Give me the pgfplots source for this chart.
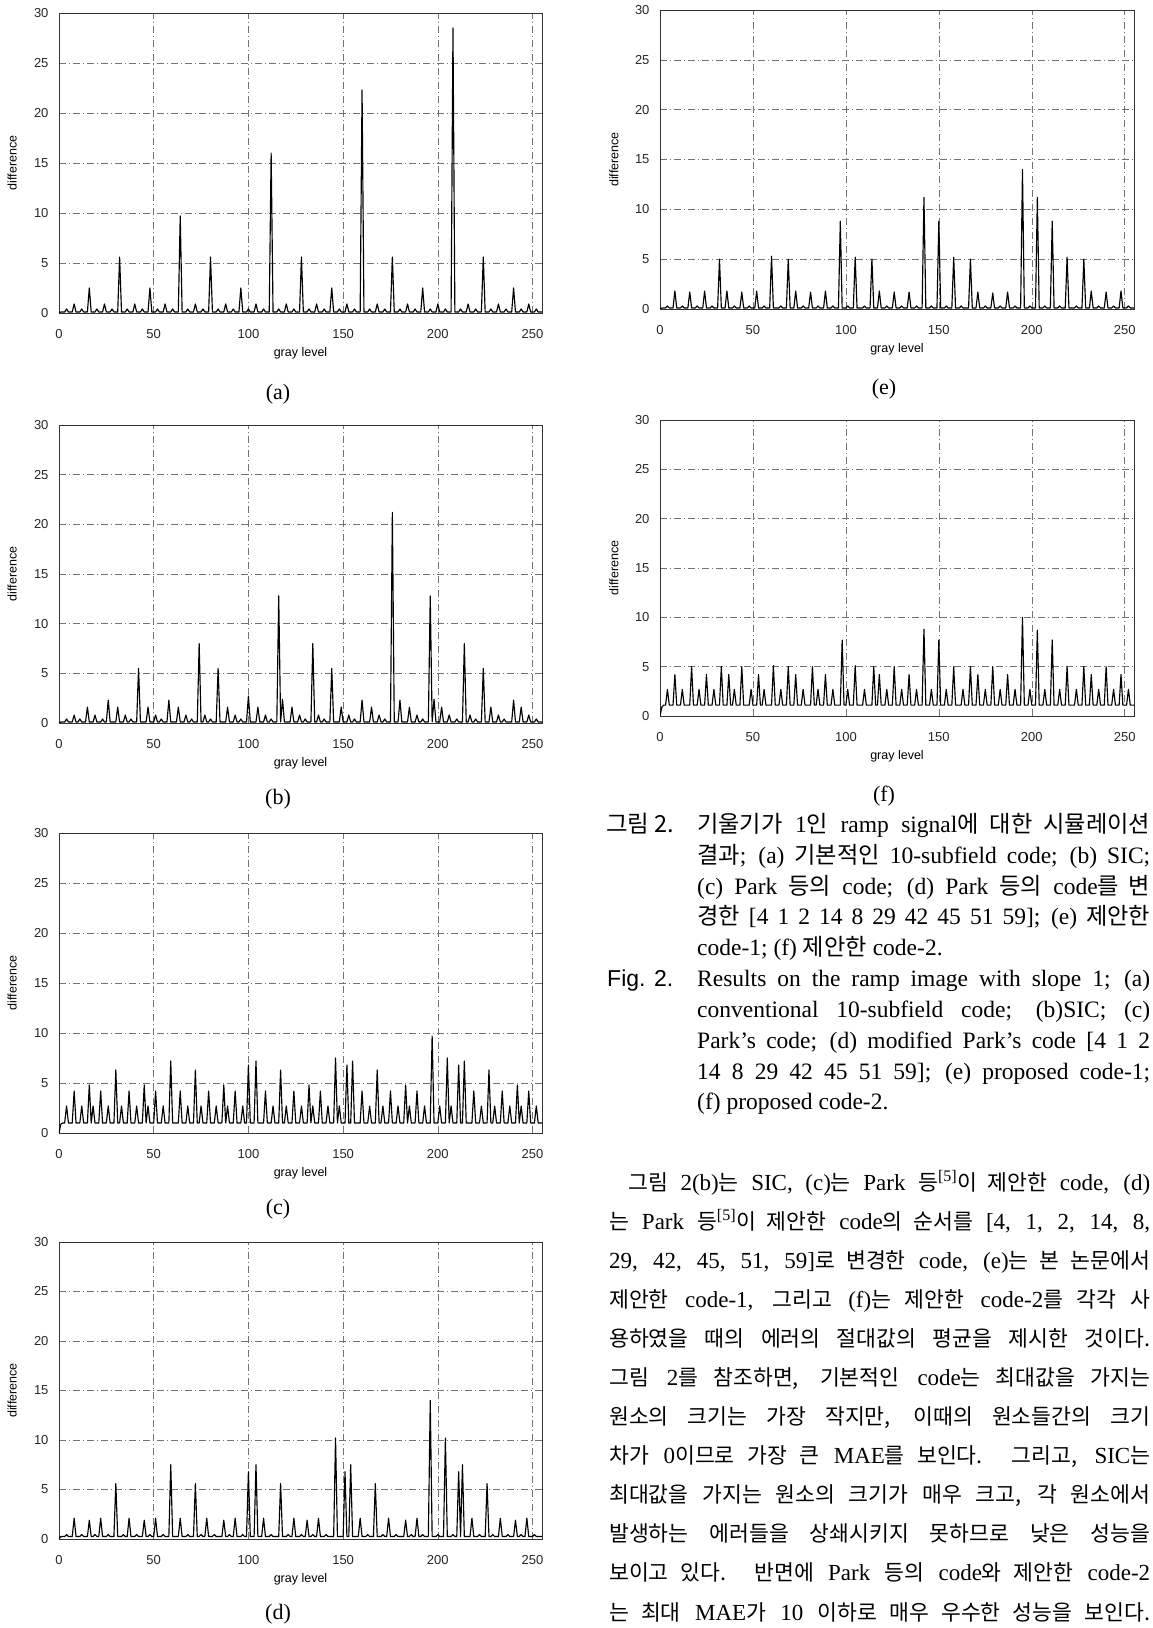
\documentclass[border=0pt]{standalone}
\usepackage{fontspec}
\setmainfont{Liberation Serif}
\newfontfamily\ticksf{Liberation Sans}
\newfontfamily\kr{Noto Sans CJK KR}
\usepackage{pgfplots}
\pgfplotsset{compat=1.18}
\pgfplotsset{
  panel/.style={
    scale only axis, anchor=south west,
    xmin=0, xmax=255, ymin=0, ymax=30,
    xtick={0,50,...,250}, ytick={0,5,...,30},
    major tick length=0pt,
    grid=major,
    major grid style={black!55, line width=0.5pt, dash pattern=on 7pt off 3pt on 1pt off 3pt},
    axis line style={black!80, line width=0.6pt},
    tick label style={font=\ticksf\fontsize{13}{15}\selectfont, black!85},
    /pgf/number format/assume math mode=true,
    xticklabel style={yshift=-13pt},
    yticklabel style={xshift=-7pt},
    xlabel={gray level}, ylabel={difference},
    every axis x label/.style={at={(axis description cs:0.5,-0.135)}, anchor=center, font=\ticksf\fontsize{12.5}{14}\selectfont},
    every axis y label/.style={at={(axis description cs:-0.097,0.5)}, rotate=90, anchor=center, font=\ticksf\fontsize{12.5}{14}\selectfont},
  },
  trace/.style={black, line width=1.15pt, mark=none, line join=round},
}
\def\krsize{22.5}
\newcommand\K[1]{{\kr\fontsize{\krsize}{\krsize}\selectfont #1}}
\newcommand\JL[4]{\node[anchor=base west, inner sep=0pt] at (#1pt,#2pt) {\hbox to #3pt{#4}};}
\newcommand\NL[3]{\node[anchor=base west, inner sep=0pt] at (#1pt,#2pt) {#3};}
\begin{document}
\begin{tikzpicture}
\path[use as bounding box] (0,0) rectangle (1153pt,1628pt);
% (a)
\begin{axis}[panel, at={(59pt,1315pt)}, width=483pt, height=300pt]
\addplot[trace] coordinates {(0,0)(1,.1)(3,.1)(4,.4)(5,.1)(7,.1)(8,.9)(9,.1)(11,.1)(12,.4)(13,.1)(15,.1)(16,2.5)(17,.1)(19,.1)(20,.4)(21,.1)(23,.1)(24,.9)(25,.1)(27,.1)(28,.4)(29,.1)(31,.1)(32,5.6)(33,.1)(35,.1)(36,.4)(37,.1)(39,.1)(40,.9)(41,.1)(43,.1)(44,.4)(45,.1)(47,.1)(48,2.5)(49,.1)(51,.1)(52,.4)(53,.1)(55,.1)(56,.9)(57,.1)(59,.1)(60,.4)(61,.1)(63,.1)(64,9.7)(65,.1)(67,.1)(68,.4)(69,.1)(71,.1)(72,.9)(73,.1)(75,.1)(76,.4)(77,.1)(79,.1)(80,5.6)(81,.1)(83,.1)(84,.4)(85,.1)(87,.1)(88,.9)(89,.1)(91,.1)(92,.4)(93,.1)(95,.1)(96,2.5)(97,.1)(99,.1)(100,.4)(101,.1)(103,.1)(104,.9)(105,.1)(107,.1)(108,.4)(109,.1)(111,.1)(112,16)(113,.1)(115,.1)(116,.4)(117,.1)(119,.1)(120,.9)(121,.1)(123,.1)(124,.4)(125,.1)(127,.1)(128,5.6)(129,.1)(131,.1)(132,.4)(133,.1)(135,.1)(136,.9)(137,.1)(139,.1)(140,.4)(141,.1)(143,.1)(144,2.5)(145,.1)(147,.1)(148,.4)(149,.1)(151,.1)(152,.9)(153,.1)(155,.1)(156,.4)(157,.1)(159,.1)(160,22.3)(161,.1)(163,.1)(164,.4)(165,.1)(167,.1)(168,.9)(169,.1)(171,.1)(172,.4)(173,.1)(175,.1)(176,5.6)(177,.1)(179,.1)(180,.4)(181,.1)(183,.1)(184,.9)(185,.1)(187,.1)(188,.4)(189,.1)(191,.1)(192,2.5)(193,.1)(195,.1)(196,.4)(197,.1)(199,.1)(200,.9)(201,.1)(203,.1)(204,.4)(205,.1)(207,.1)(208,28.5)(209,.1)(211,.1)(212,.4)(213,.1)(215,.1)(216,.9)(217,.1)(219,.1)(220,.4)(221,.1)(223,.1)(224,5.6)(225,.1)(227,.1)(228,.4)(229,.1)(231,.1)(232,.9)(233,.1)(235,.1)(236,.4)(237,.1)(239,.1)(240,2.5)(241,.1)(243,.1)(244,.4)(245,.1)(247,.1)(248,.9)(249,.1)(251,.1)(252,.4)(253,.1)(255,.1)};
\end{axis}
% (b)
\begin{axis}[panel, at={(59pt,905pt)}, width=483pt, height=298pt]
\addplot[trace] coordinates {(0,0)(1,.1)(3,.1)(4,.4)(5,.1)(7,.1)(8,.8)(9,.1)(10,.1)(11,.4)(12,.1)(14,.1)(15,1.6)(16,.1)(18,.1)(19,.8)(20,.1)(22,.1)(23,.4)(24,.1)(25,.1)(26,2.3)(27,.1)(30,.1)(31,1.6)(32,.1)(34,.1)(35,.8)(36,.1)(37,.1)(38,.4)(39,.1)(41,.1)(42,5.5)(43,.1)(46,.1)(47,1.6)(48,.1)(50,.1)(51,.8)(52,.1)(53,.1)(54,.4)(55,.1)(57,.1)(58,2.3)(59,.1)(62,.1)(63,1.6)(64,.1)(66,.1)(67,.8)(68,.1)(69,.1)(70,.4)(71,.1)(73,.1)(74,8.0)(75,.1)(76,.1)(77,.8)(78,.1)(79,.1)(80,.4)(81,.1)(83,.1)(84,5.5)(85,.1)(88,.1)(89,1.6)(90,.1)(92,.1)(93,.8)(94,.1)(95,.1)(96,.4)(97,.1)(99,.1)(100,2.7)(101,.1)(104,.1)(105,1.6)(106,.1)(108,.1)(109,.8)(110,.1)(111,.1)(112,.4)(113,.1)(115,.1)(116,12.8)(117,.1)(118,2.4)(119,.1)(122,.1)(123,1.6)(124,.1)(126,.1)(127,.8)(128,.1)(129,.1)(130,.4)(131,.1)(133,.1)(134,8.0)(135,.1)(136,.1)(137,.8)(138,.1)(139,.1)(140,.4)(141,.1)(143,.1)(144,5.5)(145,.1)(148,.1)(149,1.6)(150,.1)(152,.1)(153,.8)(154,.1)(155,.1)(156,.4)(157,.1)(159,.1)(160,2.3)(161,.1)(164,.1)(165,1.6)(166,.1)(168,.1)(169,.8)(170,.1)(171,.1)(172,.4)(173,.1)(175,.1)(176,21.2)(177,.1)(179,.1)(180,2.3)(181,.1)(184,.1)(185,1.6)(186,.1)(188,.1)(189,.8)(190,.1)(191,.1)(192,.4)(193,.1)(195,.1)(196,12.8)(197,.1)(198,2.4)(199,.1)(201,.1)(202,1.6)(203,.1)(205,.1)(206,.8)(207,.1)(209,.1)(210,.4)(211,.1)(213,.1)(214,8.0)(215,.1)(216,.1)(217,.8)(218,.1)(219,.1)(220,.4)(221,.1)(223,.1)(224,5.5)(225,.1)(227,.1)(228,1.6)(229,.1)(231,.1)(232,.8)(233,.1)(234,.1)(235,.4)(236,.1)(239,.1)(240,2.3)(241,.1)(243,.1)(244,1.6)(245,.1)(247,.1)(248,.8)(249,.1)(251,.1)(252,.4)(253,.1)(255,.1)};
\end{axis}
% (c)
\begin{axis}[panel, at={(59pt,495pt)}, width=483pt, height=300pt]
\addplot[trace] coordinates {(0,0)(1,0.9)(2,1)(3,1)(4,2.7)(5,1)(7,1)(8,4.2)(9,1)(11,1)(12,2.7)(13,1)(15,1)(16,4.8)(17,1)(18,2.7)(19,1)(21,1)(22,4.2)(23,1)(25,1)(26,2.7)(27,1)(29,1)(30,6.3)(31,1)(32,1)(33,2.7)(34,1)(36,1)(37,4.2)(38,1)(40,1)(41,2.7)(42,1)(44,1)(45,4.8)(46,1)(47,2.7)(48,1)(50,1)(51,4.2)(52,1)(54,1)(55,2.7)(56,1)(58,1)(59,7.2)(60,1)(63,1)(64,4.2)(65,1)(67,1)(68,2.7)(69,1)(71,1)(72,6.3)(73,1)(74,1)(75,2.7)(76,1)(78,1)(79,4.2)(80,1)(82,1)(83,2.7)(84,1)(86,1)(87,4.8)(88,1)(89,2.7)(90,1)(92,1)(93,4.2)(94,1)(96,1)(97,2.7)(98,1)(99,1)(100,6.8)(101,1)(103,1)(104,7.2)(105,1)(108,1)(109,4.2)(110,1)(112,1)(113,2.7)(114,1)(116,1)(117,6.3)(118,1)(119,1)(120,2.7)(121,1)(123,1)(124,4.2)(125,1)(127,1)(128,2.7)(129,1)(131,1)(132,4.8)(133,1)(134,2.7)(135,1)(137,1)(138,4.2)(139,1)(141,1)(142,2.7)(143,1)(145,1)(146,7.5)(147,1)(148,2.7)(149,1)(151,1)(152,6.8)(153,1)(154,1)(155,7.2)(156,1)(159,1)(160,4.2)(161,1)(163,1)(164,2.7)(165,1)(167,1)(168,6.3)(169,1)(170,1)(171,2.7)(172,1)(174,1)(175,4.2)(176,1)(178,1)(179,2.7)(180,1)(182,1)(183,4.8)(184,1)(185,2.7)(186,1)(188,1)(189,4.2)(190,1)(192,1)(193,2.7)(194,1)(196,1)(197,9.7)(198,1)(200,1)(201,2.7)(202,1)(204,1)(205,7.5)(206,1)(207,2.7)(208,1)(210,1)(211,6.8)(212,1)(213,1)(214,7.2)(215,1)(218,1)(219,4.2)(220,1)(222,1)(223,2.7)(224,1)(226,1)(227,6.3)(228,1)(229,1)(230,2.7)(231,1)(233,1)(234,4.2)(235,1)(237,1)(238,2.7)(239,1)(241,1)(242,4.8)(243,1)(244,2.7)(245,1)(247,1)(248,4.2)(249,1)(251,1)(252,2.7)(253,1)(255,1)};
\end{axis}
% (d)
\begin{axis}[panel, at={(59pt,89pt)}, width=483pt, height=297pt]
\addplot[trace] coordinates {(0,0)(1,.25)(3,.25)(4,.45)(5,.25)(7,.25)(8,2.1)(9,.25)(11,.25)(12,.45)(13,.25)(15,.25)(16,1.9)(17,.25)(18,.25)(19,.45)(20,.25)(21,.25)(22,2.1)(23,.25)(25,.25)(26,.45)(27,.25)(29,.25)(30,5.6)(31,.25)(33,.25)(34,.45)(35,.25)(36,.25)(37,2.1)(38,.25)(40,.25)(41,.45)(42,.25)(44,.25)(45,1.9)(46,.25)(47,.25)(48,.45)(49,.25)(50,.25)(51,2.1)(52,.25)(54,.25)(55,.45)(56,.25)(58,.25)(59,7.5)(60,.25)(63,.25)(64,2.1)(65,.25)(67,.25)(68,.45)(69,.25)(71,.25)(72,5.6)(73,.25)(74,.25)(75,.45)(76,.25)(77,.25)(78,2.1)(79,.25)(81,.25)(82,.45)(83,.25)(86,.25)(87,1.9)(88,.25)(89,.25)(90,.45)(91,.25)(92,.25)(93,2.1)(94,.25)(96,.25)(97,.45)(98,.25)(99,.25)(100,6.8)(101,.25)(103,.25)(104,7.5)(105,.25)(107,.25)(108,2.1)(109,.25)(111,.25)(112,.45)(113,.25)(116,.25)(117,5.6)(118,.25)(120,.25)(121,.45)(122,.25)(123,.25)(124,2.1)(125,.25)(127,.25)(128,.45)(129,.25)(130,.25)(131,1.9)(132,.25)(133,.25)(134,.45)(135,.25)(136,.25)(137,2.1)(138,.25)(140,.25)(141,.45)(142,.25)(145,.25)(146,10.2)(147,.25)(150,.25)(151,6.8)(152,.25)(153,.25)(154,7.5)(155,.25)(158,.25)(159,2.1)(160,.25)(162,.25)(163,.45)(164,.25)(166,.25)(167,5.6)(168,.25)(170,.25)(171,.45)(172,.25)(173,.25)(174,2.1)(175,.25)(177,.25)(178,.45)(179,.25)(182,.25)(183,1.9)(184,.25)(185,.25)(186,.45)(187,.25)(188,.25)(189,2.1)(190,.25)(191,.25)(192,.45)(193,.25)(195,.25)(196,14.0)(197,.25)(199,.25)(200,.45)(201,.25)(203,.25)(204,10.2)(205,.25)(207,.25)(208,.45)(209,.25)(210,.25)(211,6.8)(212,.25)(213,7.5)(214,.25)(217,.25)(218,2.1)(219,.25)(221,.25)(222,.45)(223,.25)(225,.25)(226,5.6)(227,.25)(228,.25)(229,.45)(230,.25)(232,.25)(233,2.1)(234,.25)(236,.25)(237,.45)(238,.25)(240,.25)(241,1.9)(242,.25)(243,.25)(244,.45)(245,.25)(246,.25)(247,2.1)(248,.25)(250,.25)(251,.45)(252,.25)(255,.25)};
\end{axis}
% (e)
\begin{axis}[panel, at={(660pt,1319pt)}, width=474pt, height=299pt]
\addplot[trace] coordinates {(0,0)(1,.1)(3,.1)(4,.3)(5,.1)(7,.1)(8,1.8)(9,.1)(11,.1)(12,.3)(13,.1)(15,.1)(16,1.7)(17,.1)(19,.1)(20,.3)(21,.1)(23,.1)(24,1.8)(25,.1)(27,.1)(28,.3)(29,.1)(31,.1)(32,5.0)(33,.1)(35,.1)(36,1.8)(37,.1)(39,.1)(40,.3)(41,.1)(43,.1)(44,1.7)(45,.1)(47,.1)(48,.3)(49,.1)(51,.1)(52,1.8)(53,.1)(55,.1)(56,.3)(57,.1)(59,.1)(60,5.3)(61,.1)(64,.1)(65,.3)(66,.1)(68,.1)(69,5.0)(70,.1)(72,.1)(73,1.8)(74,.1)(76,.1)(77,.3)(78,.1)(80,.1)(81,1.7)(82,.1)(84,.1)(85,.3)(86,.1)(88,.1)(89,1.8)(90,.1)(92,.1)(93,.3)(94,.1)(96,.1)(97,8.8)(98,.1)(100,.1)(101,.3)(102,.1)(104,.1)(105,5.2)(106,.1)(109,.1)(110,.3)(111,.1)(113,.1)(114,5.0)(115,.1)(117,.1)(118,1.8)(119,.1)(121,.1)(122,.3)(123,.1)(125,.1)(126,1.7)(127,.1)(129,.1)(130,.3)(131,.1)(133,.1)(134,1.7)(135,.1)(137,.1)(138,.3)(139,.1)(141,.1)(142,11.2)(143,.1)(145,.1)(146,.3)(147,.1)(149,.1)(150,8.8)(151,.1)(153,.1)(154,.3)(155,.1)(157,.1)(158,5.2)(159,.1)(161,.1)(162,.3)(163,.1)(166,.1)(167,5.0)(168,.1)(170,.1)(171,1.7)(172,.1)(174,.1)(175,.3)(176,.1)(178,.1)(179,1.6)(180,.1)(182,.1)(183,.3)(184,.1)(186,.1)(187,1.7)(188,.1)(190,.1)(191,.3)(192,.1)(194,.1)(195,14.0)(196,.1)(198,.1)(199,.3)(200,.1)(202,.1)(203,11.2)(204,.1)(206,.1)(207,.3)(208,.1)(210,.1)(211,8.8)(212,.1)(214,.1)(215,.3)(216,.1)(218,.1)(219,5.2)(220,.1)(223,.1)(224,.3)(225,.1)(227,.1)(228,5.0)(229,.1)(231,.1)(232,1.8)(233,.1)(235,.1)(236,.3)(237,.1)(239,.1)(240,1.7)(241,.1)(243,.1)(244,.3)(245,.1)(247,.1)(248,1.8)(249,.1)(251,.1)(252,.3)(253,.1)(255,.1)};
\end{axis}
% (f)
\begin{axis}[panel, at={(660pt,912pt)}, width=474pt, height=296pt]
\addplot[trace] coordinates {(0,0)(1,0.9)(2,1.1)(3,1.1)(4,2.7)(5,1.1)(7,1.1)(8,4.2)(9,1.1)(11,1.1)(12,2.7)(13,1.1)(16,1.1)(17,5.0)(18,1.1)(20,1.1)(21,2.7)(22,1.1)(24,1.1)(25,4.2)(26,1.1)(28,1.1)(29,2.7)(30,1.1)(32,1.1)(33,5.0)(34,1.1)(36,1.1)(37,4.2)(38,1.1)(39,1.1)(40,2.7)(41,1.1)(43,1.1)(44,5.0)(45,1.1)(48,1.1)(49,2.7)(50,1.1)(52,1.1)(53,4.2)(54,1.1)(55,1.1)(56,2.7)(57,1.1)(60,1.1)(61,5.1)(62,1.1)(64,1.1)(65,2.7)(66,1.1)(68,1.1)(69,5.0)(70,1.1)(72,1.1)(73,4.2)(74,1.1)(76,1.1)(77,2.7)(78,1.1)(81,1.1)(82,5.0)(83,1.1)(84,1.1)(85,2.7)(86,1.1)(88,1.1)(89,4.2)(90,1.1)(92,1.1)(93,2.7)(94,1.1)(97,1.1)(98,7.7)(99,1.1)(100,1.1)(101,2.7)(102,1.1)(104,1.1)(105,5.1)(106,1.1)(109,1.1)(110,2.7)(111,1.1)(114,1.1)(115,5.0)(116,1.1)(117,1.1)(118,4.2)(119,1.1)(121,1.1)(122,2.7)(123,1.1)(125,1.1)(126,5.0)(127,1.1)(129,1.1)(130,2.7)(131,1.1)(133,1.1)(134,4.2)(135,1.1)(137,1.1)(138,2.7)(139,1.1)(141,1.1)(142,8.8)(143,1.1)(145,1.1)(146,2.7)(147,1.1)(149,1.1)(150,7.7)(151,1.1)(153,1.1)(154,2.7)(155,1.1)(157,1.1)(158,5.0)(159,1.1)(162,1.1)(163,2.7)(164,1.1)(166,1.1)(167,5.0)(168,1.1)(170,1.1)(171,4.2)(172,1.1)(174,1.1)(175,2.7)(176,1.1)(178,1.1)(179,5.0)(180,1.1)(182,1.1)(183,2.7)(184,1.1)(186,1.1)(187,4.2)(188,1.1)(190,1.1)(191,2.7)(192,1.1)(194,1.1)(195,10.0)(196,1.1)(198,1.1)(199,2.7)(200,1.1)(202,1.1)(203,8.7)(204,1.1)(206,1.1)(207,2.7)(208,1.1)(210,1.1)(211,7.7)(212,1.1)(214,1.1)(215,2.7)(216,1.1)(218,1.1)(219,5.0)(220,1.1)(223,1.1)(224,2.7)(225,1.1)(227,1.1)(228,5.0)(229,1.1)(231,1.1)(232,4.2)(233,1.1)(235,1.1)(236,2.7)(237,1.1)(239,1.1)(240,5.0)(241,1.1)(243,1.1)(244,2.7)(245,1.1)(247,1.1)(248,4.2)(249,1.1)(251,1.1)(252,2.7)(253,1.1)(255,1.1)};
\end{axis}
% panel labels
\begingroup
\fontsize{22}{26}\selectfont
\node at (278pt,1234pt) {(a)};
\node at (278pt,829pt) {(b)};
\node at (278pt,419pt) {(c)};
\node at (278pt,14pt) {(d)};
\node at (884pt,1239pt) {(e)};
\node at (884pt,832pt) {(f)};
\endgroup
% Korean caption
\begingroup
\fontsize{23.5}{27}\selectfont
\def\krsize{23.2}
\NL{606}{795}{\kr\fontsize{23.5}{27}\selectfont 그림 2.}
\JL{697}{795}{453}{\K{기울기가} 1\K{인} ramp signal\K{에 대한 시뮬레이션}}
\JL{697}{764}{453}{\K{결과}; (a) \K{기본적인} 10-subfield code; (b) SIC;}
\JL{697}{733}{453}{(c) Park \K{등의} code; (d) Park \K{등의} code\K{를 변}}
\JL{697}{703}{453}{\K{경한} [4 1 2 14 8 29 42 45 51 59]; (e) \K{제안한}}
\NL{697}{672}{code-1; (f) \K{제안한} code-2.}
% English caption
\NL{607}{641}{\ticksf\fontsize{23}{27}\selectfont Fig. 2.}
\JL{697}{641}{453}{Results on the ramp image with slope 1; (a)}
\JL{697}{610}{453}{conventional 10-subfield code; (b)SIC; (c)}
\JL{697}{579}{453}{Park's code; (d) modified Park's code [4 1 2}
\JL{697}{548}{453}{14 8 29 42 45 51 59]; (e) proposed code-1;}
\NL{697}{518}{(f) proposed code-2.}
\endgroup
% paragraph
\begingroup
\fontsize{23}{27}\selectfont
\def\krsize{21.6}
\JL{628}{437}{522}{\K{그림} 2(b)\K{는} SIC, (c)\K{는} Park \K{등}\textsuperscript{[5]}\K{이 제안한} code, (d)}
\JL{609}{398}{541}{\K{는} Park \K{등}\textsuperscript{[5]}\K{이 제안한} code\K{의 순서를} [4, 1, 2, 14, 8,}
\JL{609}{359}{541}{29, 42, 45, 51, 59]\K{로 변경한} code, (e)\K{는 본 논문에서}}
\JL{609}{320}{541}{\K{제안한} code-1, \K{그리고} (f)\K{는 제안한} code-2\K{를 각각 사}}
\JL{609}{281}{541}{\K{용하였을 때의 에러의 절대값의 평균을 제시한 것이다.}}
\JL{609}{242}{541}{\K{그림} 2\K{를 참조하면,} \K{기본적인} code\K{는 최대값을 가지는}}
\JL{609}{203}{541}{\K{원소의 크기는 가장 작지만, 이때의 원소들간의 크기}}
\JL{609}{164}{541}{\K{차가} 0\K{이므로 가장 큰} MAE\K{를 보인다. 그리고,} SIC\K{는}}
\JL{609}{125}{541}{\K{최대값을 가지는 원소의 크기가 매우 크고, 각 원소에서}}
\JL{609}{86}{541}{\K{발생하는 에러들을 상쇄시키지 못하므로 낮은 성능을}}
\JL{609}{47}{541}{\K{보이고 있다. 반면에} Park \K{등의} code\K{와 제안한} code-2}
\JL{609}{8}{541}{\K{는 최대} MAE\K{가} 10 \K{이하로 매우 우수한 성능을 보인다.}}
\endgroup
\end{tikzpicture}
\end{document}
